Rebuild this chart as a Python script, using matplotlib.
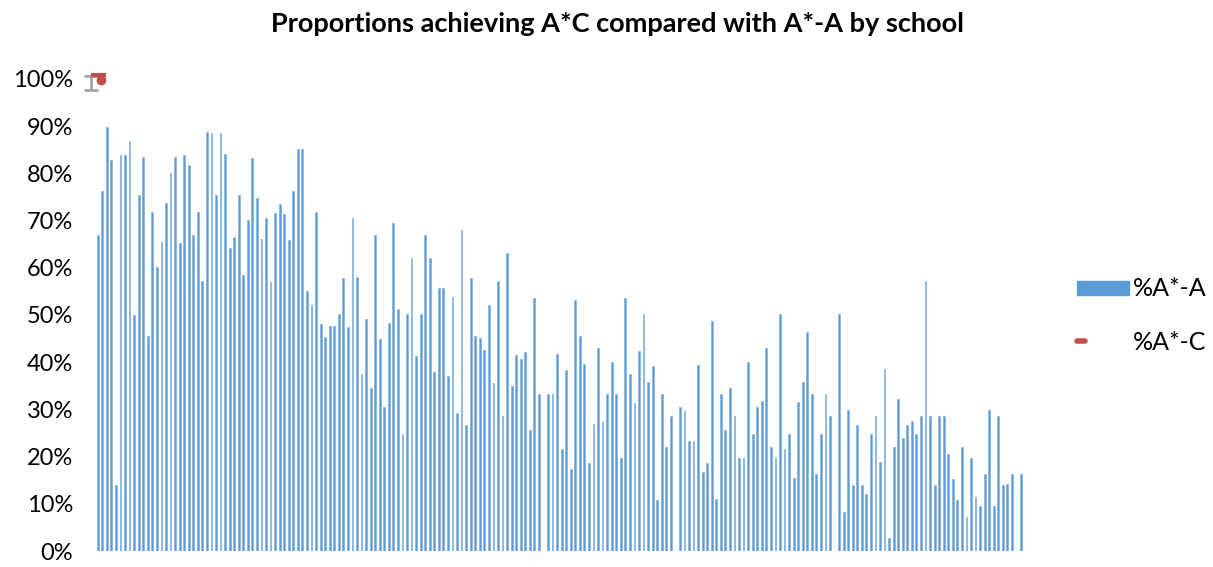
import numpy as np
import matplotlib.pyplot as plt
from matplotlib.patches import Rectangle
from matplotlib.lines import Line2D
from matplotlib.ticker import PercentFormatter

plt.rcParams['font.family'] = ['Lato', 'DejaVu Sans']

# %A*-A по школам (в порядке на графике), 0 = нет данных
pct_a_star_a = [
    0.669, 0.763, 0.898, 0.828, 0.139, 0.839, 0.839, 0.868, 0.501, 0.754,
    0.834, 0.455, 0.718, 0.602, 0.655, 0.738, 0.800, 0.834, 0.653, 0.839,
    0.818, 0.669, 0.718, 0.573, 0.888, 0.886, 0.754, 0.886, 0.841, 0.642,
    0.665, 0.754, 0.584, 0.701, 0.833, 0.748, 0.662, 0.706, 0.570, 0.716,
    0.735, 0.713, 0.659, 0.763, 0.852, 0.852, 0.550, 0.522, 0.718, 0.480,
    0.453, 0.477, 0.477, 0.502, 0.578, 0.475, 0.706, 0.581, 0.375, 0.491,
    0.345, 0.669, 0.449, 0.306, 0.483, 0.695, 0.513, 0.248, 0.502, 0.620,
    0.414, 0.502, 0.669, 0.620, 0.379, 0.557, 0.557, 0.371, 0.538, 0.292,
    0.681, 0.266, 0.579, 0.455, 0.451, 0.426, 0.522, 0.356, 0.573, 0.285,
    0.631, 0.350, 0.416, 0.407, 0.422, 0.256, 0.535, 0.332, 0.0, 0.332,
    0.332, 0.417, 0.216, 0.383, 0.173, 0.532, 0.455, 0.396, 0.186, 0.269,
    0.430, 0.273, 0.332, 0.400, 0.332, 0.198, 0.535, 0.376, 0.314, 0.424,
    0.502, 0.357, 0.392, 0.108, 0.332, 0.221, 0.285, 0.0, 0.306, 0.297,
    0.233, 0.233, 0.394, 0.167, 0.186, 0.487, 0.111, 0.332, 0.257, 0.345,
    0.285, 0.198, 0.198, 0.400, 0.248, 0.306, 0.318, 0.430, 0.221, 0.198,
    0.502, 0.217, 0.248, 0.155, 0.316, 0.359, 0.465, 0.332, 0.163, 0.248,
    0.332, 0.285, 0.0, 0.502, 0.083, 0.299, 0.139, 0.267, 0.139, 0.121,
    0.248, 0.285, 0.189, 0.385, 0.028, 0.221, 0.321, 0.239, 0.266, 0.276,
    0.248, 0.285, 0.573, 0.285, 0.139, 0.285, 0.285, 0.206, 0.153, 0.108,
    0.221, 0.073, 0.198, 0.114, 0.096, 0.164, 0.299, 0.096, 0.285, 0.139,
    0.143, 0.164, 0.0, 0.164,
]
# %A*-C: видна только одна точка у первой школы
pct_a_star_c_x = [0]
pct_a_star_c = [0.998]

y_ticks = np.arange(0, 1.01, 0.1)

blue = '#5b9bd5'
red = '#c0504d'

fig = plt.figure(figsize=(12.13, 5.67), dpi=100)
ax = fig.add_axes([0.0787, 0.0282, 0.7649, 0.8325])

x = np.arange(len(pct_a_star_a))
ax.bar(x, pct_a_star_a, width=0.4, color=blue, edgecolor='#8fb8e0', linewidth=0.6)

# серия %A*-C (маркер в левом верхнем углу)
off = 0.8  # маркер сдвинут вправо от центра категории
ax.errorbar([-1.4], [0.995], yerr=[[0.018], [0.012]], color='#a6a6a6',
            capsize=5, capthick=2, elinewidth=2, clip_on=False)
ax.plot(np.array(pct_a_star_c_x) + off, pct_a_star_c, 'o', color=red,
        markersize=6, clip_on=False, zorder=5)
ax.plot([-1.1, 1.3], [1.008, 1.008], color=red, lw=3, clip_on=False, zorder=5)

ax.set_xlim(-0.5, len(pct_a_star_a) - 0.5)
ax.set_ylim(0, 1)
ax.set_yticks(y_ticks)
ax.yaxis.set_major_formatter(PercentFormatter(1.0, decimals=0))
ax.set_xticks([])
ax.tick_params(axis='y', length=0, pad=16, labelsize=17, labelcolor='#000000')
for s in ax.spines.values():
    s.set_visible(False)

fig.text(0.509, 0.958, 'Proportions achieving A*C compared with A*-A by school',
         ha='center', va='center', fontsize=19.5, fontweight='bold')

# легенда
fig.add_artist(Rectangle((1077 / 1213, 1 - 295 / 567), 52 / 1213, 14 / 567,
                         transform=fig.transFigure, color=blue))
fig.text(1133 / 1213, 1 - 289 / 567, '%A*-A', ha='left', va='center', fontsize=18)
fig.add_artist(Line2D([1077 / 1213, 1085 / 1213], [1 - 341 / 567, 1 - 341 / 567],
                      transform=fig.transFigure, color=red, lw=4,
                      solid_capstyle='round'))
fig.text(1133 / 1213, 1 - 343 / 567, '%A*-C', ha='left', va='center', fontsize=18)

fig.savefig('out.png', dpi=100)
